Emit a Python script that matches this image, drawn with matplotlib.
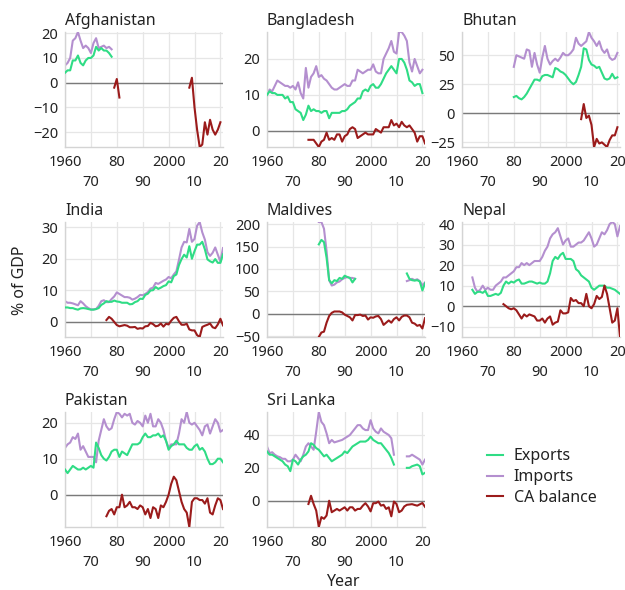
import numpy as np
import matplotlib.pyplot as plt
from matplotlib.ticker import MultipleLocator

plt.switch_backend('agg')
plt.rcParams['font.family'] = ['Noto Sans', 'DejaVu Sans']

EXPORT_COLOR = '#2fdc85'
IMPORT_COLOR = '#b48fcf'
CA_COLOR = '#9b1b1b'

countries = ['Afghanistan', 'Bangladesh', 'Bhutan', 'India', 'Maldives',
             'Nepal', 'Pakistan', 'Sri Lanka']

# Afghanistan (% of GDP)
afg_exp_start = 1960
afg_exp = [4, 5, 5, 9, 9, 11, 8, 7, 9, 10, 10, 11, 14.5, 13, 14, 13, 13, 12, 10.5]
afg_imp_start = 1960
afg_imp = [7, 8, 10, 17, 18, 20.5, 17, 14, 15, 14, 12, 16, 18, 14, 14.5, 15,
           14, 14.5, 13.5]
afg_ca_start = 1979
afg_ca = [-2, 1.5, -6] + [None] * 26 + [-2, 2, -10, -19, -26, -25, -16, -21,
                                        -15, -19, -21, -19, -16]

# Bangladesh
bgd_exp_start = 1960
bgd_exp = [10, 11, 10.5, 10.5, 10, 10, 10, 9, 9.5, 8, 8, 6, 5.5, 5, 3, 4.5,
           7, 5.5, 6, 5.5, 5.5, 5, 5.5, 5.5, 3.5, 5, 5, 5, 5, 5.5, 5.5, 6, 7,
           7.5, 8, 9, 9, 11, 11.5, 11, 12.5, 13, 12, 12, 13, 14.5, 16, 17, 18,
           17, 16, 20, 20, 19, 17, 14, 13.5, 12.5, 13, 13, 10.5]
bgd_imp_start = 1960
bgd_imp = [10, 11.5, 11, 12.5, 14, 13.5, 13, 12.5, 12.5, 12, 12.5, 11.5, 13.5,
           10.5, 9, 17.5, 12, 15, 16, 18, 15, 15.5, 14.5, 14, 13, 12, 11.5,
           11.5, 12, 12.5, 13, 12.5, 12.5, 14, 14, 17, 16.5, 16, 16.5, 17, 17,
           18.5, 16.5, 16, 16, 20, 21.5, 23, 25, 22, 21.5, 27.5, 27.5, 26.5,
           25, 19, 16.5, 20, 18, 16, 17]
bgd_ca_start = 1976
bgd_ca = [-2.5, -2.5, -2.5, -3.5, -4.5, -3, -2.5, -0.5, -2.5, -2, -2.5, -1,
          -1, -3, -1.5, -1, 0.5, 1, 0.5, -2, -1.5, -1, -0.5, -1, -1, -1, 0.5,
          0, -0.5, 1, 1, 1, 3, 1.5, 2, 1, 2.5, 1.5, 1, 1.5, 0.5, -0.5, -3,
          -1.5, -1.5, -3.5]

# Bhutan
btn_exp_start = 1980
btn_exp = [14, 15, 13, 12, 14, 17, 21, 25, 29, 29, 28, 32, 33, 33, 32, 31, 39,
           38, 36, 35, 33, 30, 27, 25, 27, 33, 40, 56, 55, 46, 42, 41, 39, 40,
           35, 30, 29, 30, 34, 30, 31]
btn_imp_start = 1980
btn_imp = [40, 50, 49, 48, 47, 55, 54, 40, 52, 42, 35, 48, 58, 47, 42, 45, 47,
           45, 48, 52, 50, 50, 52, 55, 65, 60, 58, 60, 62, 70, 65, 62, 58, 62,
           55, 52, 55, 48, 46, 47, 52]
btn_ca_start = 2006
btn_ca = [-5, 8, -4, -2, -10, -29, -22, -26, -25, -27, -29, -23, -19, -19, -12]

# India
ind_exp_start = 1960
ind_exp = [4.5, 4.5, 4.3, 4.3, 4, 3.8, 4.2, 4.3, 4.2, 4, 3.8, 3.8, 4, 4.3, 5.3,
           5.8, 6.5, 6.3, 6.3, 6.7, 6.4, 6.3, 6, 6, 6, 5.5, 5.6, 6.2, 6.5, 7.3,
           7.2, 8.5, 8.9, 9.9, 10, 11, 10.4, 10.8, 11.3, 11.6, 12.8, 12.5,
           14.5, 15, 18, 19.9, 21.3, 20.4, 24, 20, 22.4, 24.5, 24.5, 25.4, 23,
           19.8, 19.2, 18.8, 19.9, 18.7, 18.7, 21.4]
ind_imp_start = 1960
ind_imp = [6.5, 6, 6, 5.8, 5.5, 5.2, 6.5, 5.8, 4.9, 4.3, 3.9, 3.9, 4, 5, 6.5,
           6.8, 6.2, 6.2, 7.2, 8, 9.3, 8.8, 8.3, 7.8, 7.8, 7.6, 7, 7.3, 7.8,
           8.5, 8.4, 8.8, 9.4, 10.5, 10.8, 12.3, 12, 12.5, 13, 13.4, 14.2, 13.8,
           15, 16, 19.7, 23.6, 25.4, 25.2, 29.5, 25.4, 26.3, 30.5, 31.7, 28.4,
           26.1, 22.1, 20.9, 21.9, 23.6, 21.3, 19.1, 23.4]
ind_ca_start = 1976
ind_ca = [0.5, 1.5, 0.9, -0.1, -1.1, -1.5, -1.3, -1.1, -1.3, -1.8, -1.8, -1.7,
          -2.3, -2.1, -2.2, -1.5, -1.4, -0.4, -0.8, -1.5, -1.3, -0.6, -1.6,
          -0.7, -0.9, 0.3, 1.2, 1.5, 0.1, -1, -1, -0.7, -2.5, -2.8, -2.8, -4.3,
          -4.9, -1.7, -1.3, -1, -0.6, -1.8, -2.1, -0.9, 0.9, -1.2]

# Maldives
mdv_exp_start = 1980
mdv_exp = [155, 165, 160, 125, 75, 68, 75, 73, 80, 78, 85, 82, 80, 70, 78] + \
          [None] * 19 + [90, 78, 75, 74, 75, 72, 52, 68]
mdv_imp_start = 1980
mdv_imp = [205, 205, 190, 140, 75, 63, 65, 70, 72, 77, 80, 82, 80, 80, 78] + \
          [None] * 19 + [73, 75, 78, 75, 77, 73, 63, 70]
mdv_ca_start = 1980
mdv_ca = [-52, -42, -40, -20, -5, 2, 5, 5, 5, 3, -2, -5, -8, -15, -3, -3, -2,
          -5, -4, -13, -8, -9, -6, -5, -12, -25, -20, -15, -20, -12, -8, -15,
          -7, -4, -4, -8, -20, -22, -27, -25, -33, -10]

# Nepal
npl_exp_start = 1964
npl_exp = [8, 6, 7, 7, 6.5, 7.5, 5, 5, 5.5, 6, 5.5, 6.5, 10, 12, 11, 12, 11.5,
           12.5, 13, 11, 11, 11.5, 12, 12, 11.5, 11, 11.5, 11, 11, 12, 16, 22,
           24, 23, 25, 26, 23, 23, 23, 22, 18, 17, 15, 14, 13, 12, 9, 8, 9, 10,
           10, 10, 9, 9, 8.5, 8, 7, 6]
npl_imp_start = 1964
npl_imp = [14, 9, 7, 8, 10, 8, 9, 8, 8, 10, 11, 12, 14, 14, 15, 16, 17, 19, 19,
           21, 20, 21, 20, 21, 22, 22, 22, 24, 27, 29, 33, 35, 36, 38, 34, 30,
           32, 33, 29, 29, 30, 31, 31, 32, 34, 36, 33, 29, 30, 33, 36, 35, 37,
           40, 41, 40, 34, 39]
npl_ca_start = 1976
npl_ca = [1, 0, -1, -1.5, -1, -2, -4, -6, -4, -5, -4, -4.5, -5, -7, -7, -6, -8,
          -6, -5, -9, -8, -7.5, -2, -3.5, -3.5, -3, 4, 2.5, 3, 1.5, 1.5, 0, 6,
          0, -1, 1, 5, 3.5, 4.5, 10, 6, -1, -8, -7, -1, -15]

# Pakistan
pak_exp_start = 1960
pak_exp = [7, 6, 7, 8, 7.5, 7, 7, 7.5, 7, 7.5, 8, 7.5, 14.5, 13, 11, 10, 9.5,
           10.5, 12, 12.5, 12.5, 10.5, 12, 11.5, 11, 12.5, 14, 14, 14, 14.5,
           16, 17, 16, 16, 16.5, 16.5, 17, 16, 16.5, 15, 12.5, 13.5, 14, 15,
           14, 14, 14, 13, 12.5, 12.5, 13.5, 14, 12.5, 13, 12, 10, 8.5, 8.5, 9,
           10, 10, 9]
pak_imp_start = 1960
pak_imp = [13, 14, 14.5, 16, 15.5, 17, 12.5, 13.5, 12, 10.5, 10.5, 10.5, 9, 15,
           18, 21, 19, 18, 18.5, 21, 23, 22.5, 21.5, 22.5, 22, 22.5, 20, 19.5,
           20.5, 20, 19, 22, 20, 22.5, 19, 19, 21, 20, 18, 15, 13, 14, 14, 14,
           17, 21, 20, 23, 20, 19.5, 20, 19, 18, 16.5, 19, 19.5, 17, 19, 21, 20,
           17.5, 18]
pak_ca_start = 1976
pak_ca = [-6, -4.5, -4, -5.5, -3.5, -3.5, 0, -3.5, -3, -2, -3.5, -3.5, -4, -3,
          -3.5, -5.5, -4, -6.5, -3.5, -4, -6.5, -3, -3.5, -2, 0, 3, 5, 4, 1,
          -2, -4, -5, -9, -2, -1, -1, -1.5, -1.5, -2.5, -1, -5, -5.5, -3, -1,
          -1.5, -4]

# Sri Lanka
lka_exp_start = 1960
lka_exp = [30, 28, 28, 27, 26, 25, 24, 22, 21, 18, 25, 24, 22, 25, 27, 28, 30,
           35, 34, 32, 31, 29, 27, 28, 26, 24, 25, 26, 27, 28, 30, 29, 31, 33,
           34, 35, 36, 36, 36, 37, 39, 37, 36, 35, 35, 33, 31, 29, 26, 22] + \
          [None] * 4 + [20, 20, 21, 21.5, 22, 21, 16, 17]
lka_imp_start = 1960
lka_imp = [33, 29, 29.5, 28, 27, 26.5, 25.5, 25.5, 24, 24, 25, 28, 26, 24, 28,
           33, 35, 33, 31, 42, 54, 48, 46, 41, 35, 37, 35.5, 36, 36.5, 37, 38,
           39, 40, 42, 44, 46, 46, 44, 43, 43, 49, 44, 42, 41, 44, 42, 41, 40,
           38, 28] + [None] * 4 + [27, 27, 28, 27, 26, 25, 22, 25]
lka_ca_start = 1976
lka_ca = [-2, 3, -2, -6, -16, -10, -11, -9, 0, -7, -6, -5, -6, -5, -4, -6, -4,
          -4, -6, -5, -5, -3, -1.5, -3.5, -6.5, -1.5, -1.5, -0.5, -3, -2.5, -5,
          -4, -9.5, -0.5, -2, -7, -6, -3.5, -2.5, -2.3, -2.1, -2.6, -3, -2.2,
          -1.4, -3.7]

panel_series = [
    (afg_exp_start, afg_exp, afg_imp_start, afg_imp, afg_ca_start, afg_ca),
    (bgd_exp_start, bgd_exp, bgd_imp_start, bgd_imp, bgd_ca_start, bgd_ca),
    (btn_exp_start, btn_exp, btn_imp_start, btn_imp, btn_ca_start, btn_ca),
    (ind_exp_start, ind_exp, ind_imp_start, ind_imp, ind_ca_start, ind_ca),
    (mdv_exp_start, mdv_exp, mdv_imp_start, mdv_imp, mdv_ca_start, mdv_ca),
    (npl_exp_start, npl_exp, npl_imp_start, npl_imp, npl_ca_start, npl_ca),
    (pak_exp_start, pak_exp, pak_imp_start, pak_imp, pak_ca_start, pak_ca),
    (lka_exp_start, lka_exp, lka_imp_start, lka_imp, lka_ca_start, lka_ca),
]
y_steps = [10, 10, 25, 10, 50, 10, 10, 20]

x_ticks = [1960, 1970, 1980, 1990, 2000, 2010, 2020]
x_labels = ['1960', '\n70', '80', '\n90', '2000', '\n10', '20']


def as_series(start, values):
    y = np.array([np.nan if v is None else v for v in values], dtype=float)
    return np.arange(start, start + len(y)), y


W, H = 625, 590
fig = plt.figure(figsize=(W / 100, H / 100), dpi=100)

col_left = [65, 267, 462]
row_top = [32, 222, 412]
ax_w, ax_h = 158, 115
TEXT = '#222222'

for i, name in enumerate(countries):
    r, c = divmod(i, 3)
    ax = fig.add_axes([col_left[c] / W, 1 - (row_top[r] + ax_h) / H,
                       ax_w / W, ax_h / H])
    e0, ex, i0, im, c0, ca = panel_series[i]

    ax.axhline(0, color='#7a7a7a', lw=1.0, zorder=1)
    ax.plot(*as_series(e0, ex), color=EXPORT_COLOR, lw=1.5, zorder=3)
    ax.plot(*as_series(i0, im), color=IMPORT_COLOR, lw=1.5, zorder=2)
    ax.plot(*as_series(c0, ca), color=CA_COLOR, lw=1.5, zorder=3)

    all_vals = [v for v in ex + im + ca if v is not None]
    ax.set_ylim(min(all_vals), max(all_vals))
    ax.set_xlim(1960, 2021)
    ax.yaxis.set_major_locator(MultipleLocator(y_steps[i]))
    ax.set_xticks(x_ticks)
    ax.set_xticklabels(x_labels)
    for lbl in ax.get_xticklabels():
        lbl.set_linespacing(1.45)

    ax.set_title(name, loc='left', fontsize=11.5, color=TEXT, pad=5)
    ax.grid(True, color='#e6e6e6', lw=0.9, zorder=0)
    ax.set_axisbelow(True)
    ax.tick_params(length=0, labelsize=10.5, colors=TEXT)
    ax.tick_params(axis='x', pad=6)
    ax.tick_params(axis='y', pad=5)
    for side in ['top', 'right']:
        ax.spines[side].set_visible(False)
    for side in ['left', 'bottom']:
        ax.spines[side].set_color('#d4d4d4')
        ax.spines[side].set_linewidth(1.0)

fig.text(20 / W, 1 - 280 / H, '% of GDP', rotation=90, fontsize=11.5,
         color=TEXT, ha='center', va='center')
fig.text(343 / W, 1 - 582 / H, 'Year', fontsize=11.5, color=TEXT,
         ha='center', va='center')

handles = [plt.Line2D([], [], color=col, lw=1.5)
           for col in (EXPORT_COLOR, IMPORT_COLOR, CA_COLOR)]
fig.legend(handles, ['Exports', 'Imports', 'CA balance'],
           loc='upper left', bbox_to_anchor=(473 / W, 1 - 434 / H),
           frameon=False, fontsize=11.5, handlelength=0.95, handletextpad=0.7,
           labelspacing=0.3, labelcolor=TEXT)

fig.savefig('out.png', dpi=100)
